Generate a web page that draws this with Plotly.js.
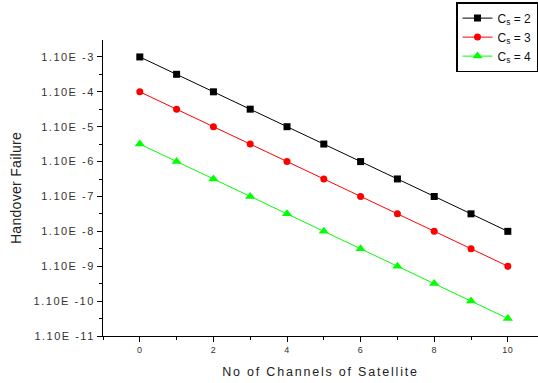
<!DOCTYPE html>
<html>
<head>
<meta charset="utf-8">
<script src="https://cdn.plot.ly/plotly-3.0.1.min.js"></script>
<style>
html,body{margin:0;padding:0;background:#fff;overflow:hidden;width:538px;height:383px;}
.ytick text{letter-spacing:1.5px;}
.xtick text{letter-spacing:0.5px;}
.g-xtitle text{letter-spacing:1.8px;}
.g-ytitle text{letter-spacing:0.3px;}
</style>
</head>
<body>
<div id="chart" style="width:566px;height:383px;"></div>
<script>
var channels = [0, 1, 2, 3, 4, 5, 6, 7, 8, 9, 10];
var cs2 = [1.1e-3, 3.5e-4, 1.1e-4, 3.5e-5, 1.1e-5, 3.5e-6, 1.1e-6, 3.5e-7, 1.1e-7, 3.5e-8, 1.1e-8];
var cs3 = [1.1e-4, 3.5e-5, 1.1e-5, 3.5e-6, 1.1e-6, 3.5e-7, 1.1e-7, 3.5e-8, 1.1e-8, 3.5e-9, 1.1e-9];
var cs4 = [3.5e-6, 1.1e-6, 3.5e-7, 1.1e-7, 3.5e-8, 1.1e-8, 3.5e-9, 1.1e-9, 3.5e-10, 1.1e-10, 3.5e-11];
var seriesNames = ["C<sub>s</sub> = 2", "C<sub>s</sub> = 3", "C<sub>s</sub> = 4"];
var yTickVals = [1.1e-3, 1.1e-4, 1.1e-5, 1.1e-6, 1.1e-7, 1.1e-8, 1.1e-9, 1.1e-10, 1.1e-11];
var yTickText = ["1.10E -3", "1.10E -4", "1.10E -5", "1.10E -6", "1.10E -7", "1.10E -8", "1.10E -9", "1.10E -10", "1.10E -11"];
var yMinorVals = [3.48e-3, 3.48e-4, 3.48e-5, 3.48e-6, 3.48e-7, 3.48e-8, 3.48e-9, 3.48e-10, 3.48e-11];

var font = "Arial, 'Liberation Sans', sans-serif";
var traces = [
  {x: channels, y: cs2, name: seriesNames[0], mode: "lines+markers",
   line: {color: "#000000", width: 1}, marker: {symbol: "square", size: 7, color: "#000000"}},
  {x: channels, y: cs3, name: seriesNames[1], mode: "lines+markers",
   line: {color: "#ff0000", width: 1}, marker: {symbol: "circle", size: 7, color: "#ff0000"}},
  {x: channels, y: cs4, name: seriesNames[2], mode: "lines+markers",
   line: {color: "#00ff00", width: 1}, marker: {symbol: "triangle-up", size: 9, color: "#00ff00"}}
];
var layout = {
  width: 566, height: 383,
  margin: {l: 103, r: 28, t: 40, b: 47, autoexpand: false},
  paper_bgcolor: "#ffffff", plot_bgcolor: "#ffffff",
  font: {family: font, color: "#222222"},
  showlegend: true,
  legend: {x: 0.8115, y: 1.128, xanchor: "left", yanchor: "top",
    bgcolor: "#ffffff", bordercolor: "#000000", borderwidth: 1.5,
    itemwidth: 30,
    font: {family: font, size: 12, color: "#111111"}, tracegroupgap: 0},
  xaxis: {
    range: [-1, 10.82], showgrid: false, zeroline: false,
    showline: true, linecolor: "#000000", linewidth: 1,
    tickmode: "linear", tick0: 0, dtick: 2, ticks: "outside", ticklen: 5, tickcolor: "#000000",
    minor: {dtick: 1, tick0: 0, ticks: "outside", ticklen: 3, tickcolor: "#000000", showgrid: false},
    tickfont: {family: font, size: 9, color: "#333333"},
    automargin: true,
    title: {text: "No of Channels of Satellite", standoff: 13, font: {family: font, size: 12.5, color: "#222222"}}
  },
  yaxis: {
    type: "log", range: [Math.log10(1.1e-11), -2.473], showgrid: false, zeroline: false,
    showline: true, linecolor: "#000000", linewidth: 1,
    tickmode: "array", tickvals: yTickVals, ticktext: yTickText,
    ticks: "outside", ticklen: 5, tickcolor: "#000000",
    minor: {tickmode: "array", tickvals: yMinorVals, ticks: "outside", ticklen: 3, tickcolor: "#000000", showgrid: false},
    tickfont: {family: font, size: 11, color: "#333333"},
    automargin: true,
    title: {text: "Handover Failure", standoff: 8, font: {family: font, size: 14, color: "#222222"}}
  }
};
Plotly.newPlot("chart", traces, layout, {displayModeBar: false, staticPlot: true});
</script>
</body>
</html>
